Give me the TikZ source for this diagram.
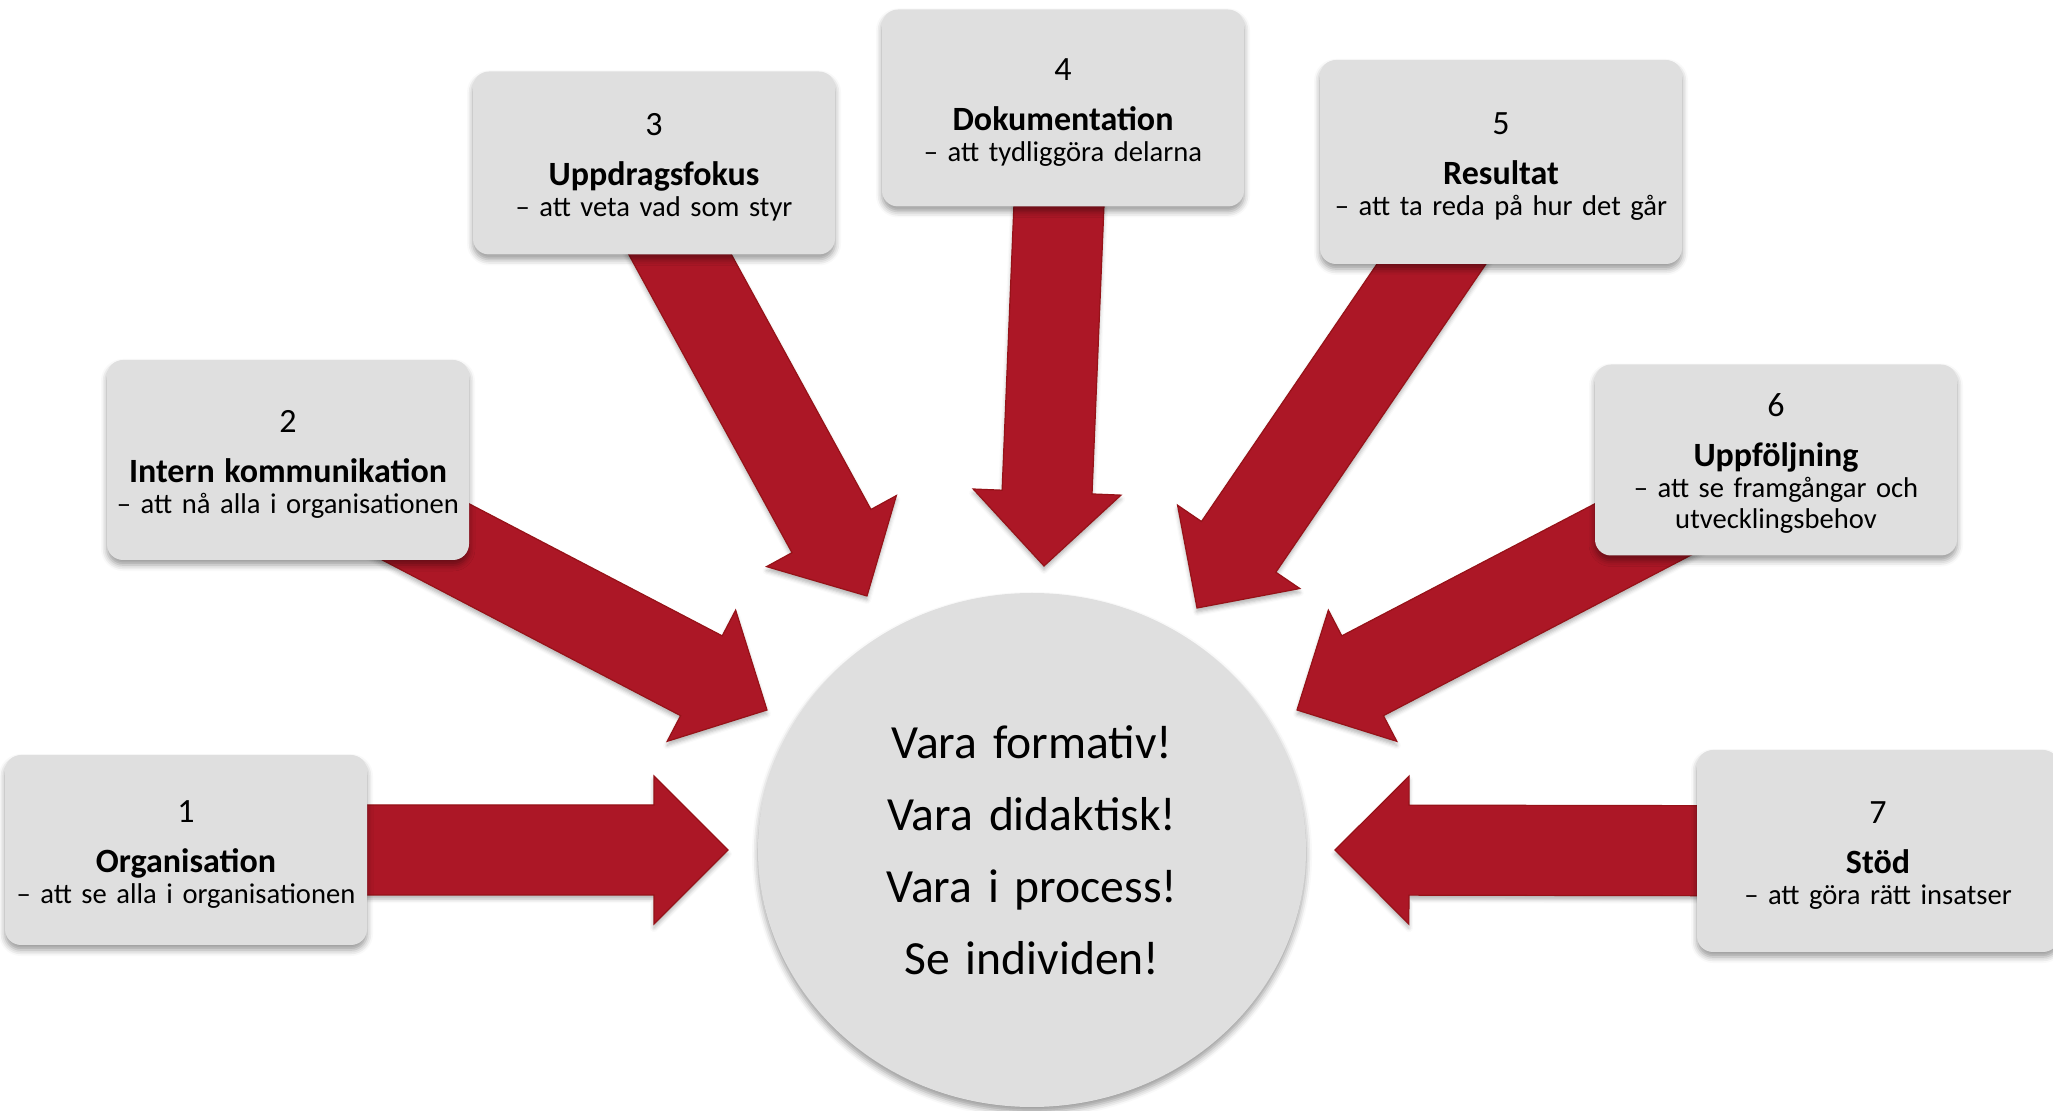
\documentclass[tikz,border=0pt]{standalone}
\usepackage{fontspec}
\setmainfont{Carlito}
\usetikzlibrary{calc,backgrounds,shadows.blur}

\definecolor{boxgray}{RGB}{223,223,223}
\definecolor{arrowred}{RGB}{172,23,38}
\definecolor{arrowrim}{RGB}{150,18,24}

\tikzset{
    softshadow/.style={blur shadow={shadow xshift=0pt, shadow yshift=-2.5pt, shadow blur radius=3pt, shadow opacity=40}},
    topic/.style={fill=boxgray, rounded corners=8pt, minimum width=181pt, text width=176pt,
        align=center, inner sep=0pt, softshadow, font=\fontsize{14.3}{15.5}\selectfont},
    core/.style={text width=250pt, align=center, inner sep=0pt, font=\fontsize{23.8}{36}\selectfont},
    redarrow/.style={fill=arrowred, draw=arrowrim, line width=0.6pt,
        blur shadow={shadow xshift=0pt, shadow yshift=-2pt, shadow blur radius=2pt, shadow opacity=30}}
}

\newcommand{\topictext}[3]{{\fontsize{17}{17}\selectfont\rule{0pt}{15pt}#1}\\[9.5pt]{\fontsize{17}{17}\selectfont\bfseries #2}\\#3}

\newcommand{\fatarrow}[2]{%
    \path ($(#2)!37pt!(#1)$) coordinate (hb);
    \filldraw[redarrow] ($(#1)!22.5pt!90:(hb)$) -- ($(hb)!22.5pt!-90:(#1)$) -- ($(hb)!37pt!-90:(#1)$)
        -- (#2) -- ($(hb)!37pt!90:(#1)$) -- ($(hb)!22.5pt!90:(#1)$) -- ($(#1)!22.5pt!-90:(hb)$) -- cycle;
}

\begin{document}
\begin{tikzpicture}[x=0.5pt, y=-0.5pt]
    \useasboundingbox (0,0) rectangle (2053,1111);

    \node[core] (mid) at (1032,850) {Vara formativ!\\Vara didaktisk!\\Vara i process!\\Se individen!};

    \node[topic, minimum height=95pt] (b1) at (186,850) {\topictext{1}{Organisation}{– att se alla i organisationen}};
    \node[topic, minimum height=100pt] (b2) at (288,460) {\topictext{2}{Intern kommunikation}{– att nå alla i organisationen}};
    \node[topic, minimum height=91.5pt] (b3) at (654,163) {\topictext{3}{Uppdragsfokus}{– att veta vad som styr}};
    \node[topic, minimum height=98.5pt] (b4) at (1063,108) {\topictext{4}{Dokumentation}{– att tydliggöra delarna}};
    \node[topic, minimum height=102pt] (b5) at (1501,162) {\topictext{5}{Resultat}{– att ta reda på hur det går}};
    \node[topic, minimum height=95.5pt] (b6) at (1776,460) {\topictext{6}{Uppföljning}{– att se framgångar och\\utvecklingsbehov}};
    \node[topic, minimum height=101pt] (b7) at (1878,851) {\topictext{7}{Stöd}{– att göra rätt insatser}};

    \coordinate (s3) at ($(b3.center)+(-24,0)$);
    \coordinate (t1) at (728,850);
    \coordinate (t2) at (767,710);
    \coordinate (t3) at (867,596);
    \coordinate (t4) at (1044,566);
    \coordinate (t5) at (1197,608);
    \coordinate (t6) at (1297,710);
    \coordinate (t7) at (1335,850);

    \begin{pgfonlayer}{background}
        \fill[boxgray, softshadow] (mid) ellipse (274 and 257);
        \fatarrow{b1.center}{t1}
        \fatarrow{b2.center}{t2}
        \fatarrow{s3}{t3}
        \fatarrow{b4.center}{t4}
        \fatarrow{b5.center}{t5}
        \fatarrow{b6.center}{t6}
        \fatarrow{b7.center}{t7}
    \end{pgfonlayer}
\end{tikzpicture}
\end{document}
